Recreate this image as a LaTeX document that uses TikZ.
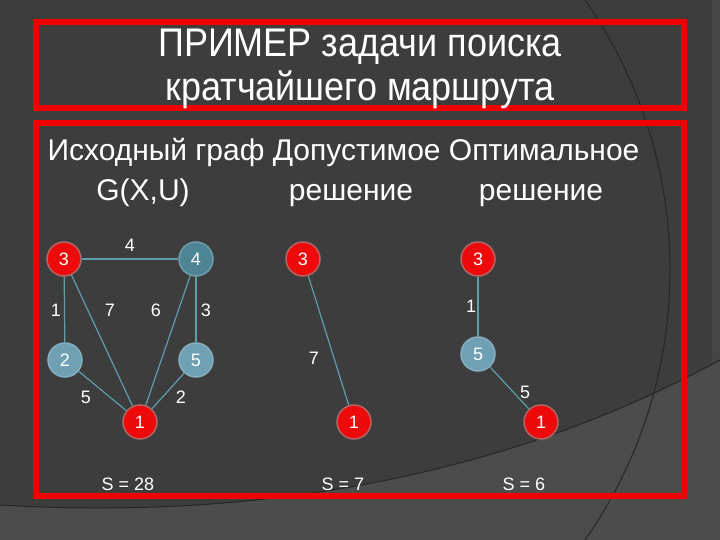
\documentclass[tikz,border=0pt]{standalone}
\usepackage{fontspec}
\setmainfont{Liberation Sans}
\newfontfamily\narrowfont[FakeStretch=0.9]{Liberation Sans}

\definecolor{bgdark}{HTML}{3D3D3D}
\definecolor{bglight}{HTML}{4C4C4C}
\definecolor{bgband}{HTML}{454545}
\definecolor{bgline}{HTML}{262626}
\definecolor{framered}{HTML}{F00000}
\definecolor{edgeteal}{HTML}{5E9EAC}
\definecolor{tealdark}{HTML}{4D8595}
\definecolor{teallight}{HTML}{6FA0B4}
\definecolor{vertred}{HTML}{EE0A0A}
\definecolor{rimred}{HTML}{B06666}

\tikzset{
  vert/.style={circle, minimum size=34pt, inner sep=0pt, line width=1.5pt,
    text=white, font=\fontsize{18}{18}\selectfont},
  redvert/.style={vert, fill=vertred, draw=rimred},
  darkvert/.style={vert, fill=tealdark, draw=tealdark!80!white},
  lightvert/.style={vert, fill=teallight, draw=teallight!85!white},
  weight/.style={text=white, font=\fontsize{18}{18}\selectfont},
  link/.style={edgeteal, line width=1.2pt},
}

\begin{document}
\begin{tikzpicture}[x=1pt,y=-1pt]
\useasboundingbox (0,0) rectangle (720,540);
\clip (0,0) rectangle (720,540);

% background
\fill[bgdark] (0,0) rectangle (720,540);
\fill[bgband] (712,0) rectangle (720,540);
\fill[bglight] (0,505) .. controls (250,520) and (500,480) .. (720,360) -- (720,540) -- (0,540) -- cycle;
\draw[bgline, line width=1pt] (0,505) .. controls (250,520) and (500,480) .. (720,360);
\draw[bgline, line width=1pt] (199,270) circle (471);

% frames
\draw[framered, line width=6pt] (36,22) rectangle (684,108);
\draw[framered, line width=6pt] (36,123) rectangle (684,496);

% headings
\node[anchor=base, text=white, font=\narrowfont\fontsize{40}{40}\selectfont] (head1) at (360,57) {ПРИМЕР задачи поиска};
\node[anchor=base, text=white, font=\narrowfont\fontsize{40}{40}\selectfont] (head2) at (360,101) {кратчайшего маршрута};
\node[anchor=base west, text=white, font=\fontsize{30}{30}\selectfont] (sub1) at (44,161) {Исходный граф Допустимое Оптимальное};
\node[anchor=base, text=white, font=\fontsize{30}{30}\selectfont] (sub2) at (143,201) {G(X,U)};
\node[anchor=base, text=white, font=\fontsize{30}{30}\selectfont] (sub3) at (351,201) {решение};
\node[anchor=base, text=white, font=\fontsize{30}{30}\selectfont] (sub4) at (541,201) {решение};

% source graph
\node[redvert] (a3) at (64,259) {3};
\node[darkvert] (a4) at (196,259) {4};
\node[lightvert] (a2) at (65,360) {2};
\node[lightvert] (a5) at (196,360) {5};
\node[redvert] (a1) at (140,422) {1};
\foreach \u/\v in {a3/a4,a3/a2,a3/a1,a4/a1,a4/a5,a2/a1,a5/a1}
  \draw[link] (\u) -- (\v);
\node[weight] (w34) at (130,245) {4};
\node[weight] (w32) at (56,310) {1};
\node[weight] (w31) at (110,310) {7};
\node[weight] (w41) at (156,310) {6};
\node[weight] (w45) at (206,310) {3};
\node[weight] (w21) at (86,397) {5};
\node[weight] (w51) at (181,397) {2};

% feasible solution
\node[redvert] (b3) at (303,259) {3};
\node[redvert] (b1) at (354,422) {1};
\draw[link] (b3) -- (b1);
\node[weight] (w7) at (314,358) {7};

% optimal solution
\node[redvert] (c3) at (478,259) {3};
\node[lightvert] (c5) at (478,354) {5};
\node[redvert] (c1) at (541,422) {1};
\draw[link] (c3) -- (c5);
\draw[link] (c5) -- (c1);
\node[weight] (w1) at (471,306) {1};
\node[weight] (w5) at (525,392) {5};

% sums
\node[weight] (s1) at (128,484) {S = 28};
\node[weight] (s2) at (343,484) {S = 7};
\node[weight] (s3) at (524,484) {S = 6};
\end{tikzpicture}
\end{document}
